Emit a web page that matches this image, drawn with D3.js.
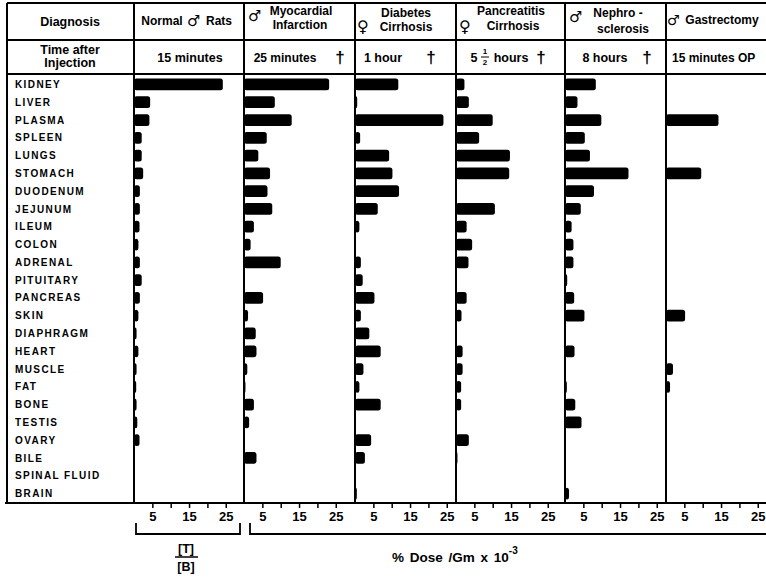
<!DOCTYPE html>
<html>
<head>
<meta charset="utf-8">
<script src="https://cdn.jsdelivr.net/npm/d3@7"></script>
<style>
  body { margin: 0; background: #fff; }
  svg text { font-family: "Liberation Sans", Arial, sans-serif; font-weight: bold; fill: #000; }
  svg text.sym { font-family: "DejaVu Sans", sans-serif; }
</style>
</head>
<body>
<div id="chart"></div>
<script>
// organs (rows)
const organs = ["KIDNEY", "LIVER", "PLASMA", "SPLEEN", "LUNGS", "STOMACH", "DUODENUM",
  "JEJUNUM", "ILEUM", "COLON", "ADRENAL", "PITUITARY", "PANCREAS", "SKIN", "DIAPHRAGM",
  "HEART", "MUSCLE", "FAT", "BONE", "TESTIS", "OVARY", "BILE", "SPINAL FLUID", "BRAIN"];

// values, one per organ
const normalRats = [24.2, 4.4, 4.2, 2.1, 2.1, 2.5, 1.6, 1.6, 1.5, 1.2, 1.6, 2.1,
  1.6, 1.2, 0.7, 1.2, 0.7, 0.6, 0.7, 0.9, 1.5, 0, 0, 0];
const myocardial = [23.2, 8.4, 13.0, 6.2, 3.9, 7.1, 6.4, 7.7, 2.7, 1.8, 10.0, 0,
  5.2, 1.1, 3.2, 3.4, 0.9, 0.4, 2.7, 1.4, 0, 3.4, 0, 0];
const diabetes = [11.8, 0.6, 24.1, 1.4, 9.3, 10.2, 12.0, 6.2, 1.2, 0, 1.6, 2.1,
  5.3, 1.6, 3.9, 7.0, 2.3, 1.2, 7.0, 0, 4.4, 2.7, 0, 0.5];
const pancreatitis = [2.3, 3.5, 10.0, 6.3, 14.7, 14.5, 0, 10.6, 2.9, 4.4, 3.4, 0,
  2.9, 1.5, 0, 1.8, 1.8, 1.4, 1.4, 0, 3.5, 0.4, 0, 0];
const nephro = [8.4, 3.4, 9.9, 5.4, 6.8, 17.3, 7.9, 4.3, 1.8, 2.3, 2.3, 0.6,
  2.5, 5.3, 0, 2.6, 0, 0.5, 2.8, 4.5, 0, 0, 0, 1.1];
const gastrectomy = [0, 0, 14.3, 0, 0, 9.6, 0, 0, 0, 0, 0, 0,
  0, 5.2, 0, 0, 1.9, 1.1, 0, 0, 0, 0, 0, 0];

const series = [normalRats, myocardial, diabetes, pancreatitis, nephro, gastrectomy];

const tickValues = [5, 10, 15, 20, 25];
const tickLabels = ["5", "15", "25"];

const W = 766, H = 583;
const topY = 3, row1Y = 40, row2Y = 74, bottomY = 503, leftX = 7;
const panelLeft = [134, 244, 355, 456, 565, 666];
const unit = 3.67;

const svg = d3.select("#chart").append("svg")
  .attr("width", W).attr("height", H);

const y = d3.scaleBand()
  .domain(organs)
  .range([row2Y + 1, bottomY])
  .paddingInner(0.34)
  .paddingOuter(0.2);

// organ labels
svg.selectAll(".organ")
  .data(organs)
  .join("text")
  .attr("class", "organ")
  .attr("x", 15)
  .attr("y", d => y(d) + y.bandwidth() / 2)
  .attr("dy", "0.36em")
  .style("font-size", "10px")
  .style("letter-spacing", "1.4px")
  .text(d => d);

// bars
series.forEach((vals, i) => {
  const x = d3.scaleLinear().domain([0, 30]).range([panelLeft[i], panelLeft[i] + 30 * unit]);
  svg.append("g")
    .selectAll("rect")
    .data(vals.map((v, j) => ({ organ: organs[j], v })).filter(d => d.v > 0))
    .join("rect")
    .attr("x", x(0))
    .attr("y", d => y(d.organ))
    .attr("width", d => x(d.v) - x(0))
    .attr("height", y.bandwidth())
    .attr("rx", 2.5)
    .attr("fill", "#000");

  const axis = svg.append("g")
    .attr("transform", `translate(0,${bottomY})`)
    .call(d3.axisBottom(x).tickValues(tickValues).tickSize(5)
      .tickFormat(d => tickLabels.includes(String(d)) ? d : ""));
  axis.select(".domain").remove();
  axis.selectAll("line").attr("stroke-width", 1.5);
  axis.selectAll("text").attr("y", 9)
    .style("font-size", "13px")
    .style("font-family", "'Liberation Sans', Arial, sans-serif")
    .style("font-weight", "bold");
});

// grid lines
const lines = svg.append("g").attr("stroke", "#000").attr("stroke-width", 2);
lines.append("line").attr("x1", leftX).attr("x2", W).attr("y1", topY).attr("y2", topY);
lines.append("line").attr("x1", leftX).attr("x2", W).attr("y1", row1Y).attr("y2", row1Y);
lines.append("line").attr("x1", leftX).attr("x2", W).attr("y1", row2Y).attr("y2", row2Y);
lines.append("line").attr("x1", leftX - 2).attr("x2", W).attr("y1", bottomY).attr("y2", bottomY);
lines.append("line").attr("x1", leftX).attr("x2", leftX).attr("y1", topY).attr("y2", bottomY);
panelLeft.forEach(px => {
  lines.append("line").attr("x1", px).attr("x2", px).attr("y1", topY).attr("y2", bottomY);
});

// header text
const head = svg.append("g");
const hText = (x, yy, t, size, anchor) => head.append("text")
  .attr("x", x).attr("y", yy)
  .attr("text-anchor", anchor || "middle")
  .style("font-size", (size || 12) + "px")
  .text(t);
const sym = (x, yy, t, size) => hText(x, yy, t, size, "start").attr("class", "sym");

hText(70, 26, "Diagnosis", 12.5);
hText(162, 25, "Normal", 12);
sym(187, 26, "\u2642", 15);
hText(219, 25, "Rats", 12);
sym(248, 21, "\u2642", 15);
hText(301, 15, "Myocardial", 12);
hText(300, 29, "Infarction", 12);
sym(357, 32, "\u2640", 16);
hText(406, 17, "Diabetes", 12);
hText(406, 31, "Cirrhosis", 12);
sym(459, 32, "\u2640", 16);
hText(511, 15, "Pancreatitis", 12);
hText(513, 30, "Cirrhosis", 12);
sym(569, 22, "\u2642", 15);
hText(618, 17, "Nephro -", 12);
hText(623, 33, "sclerosis", 12);
sym(667, 25, "\u2642", 14);
hText(722, 24, "Gastrectomy", 12);

hText(70, 54, "Time after", 12.5);
hText(70, 67, "Injection", 12.5);
hText(190, 62, "15 minutes", 12.5);
hText(285, 62, "25 minutes", 12);
hText(340, 63, "\u2020", 17);
hText(383, 62, "1 hour", 12.5);
hText(431, 63, "\u2020", 17);
// 5 1/2 hours with a stacked fraction
hText(474, 62, "5", 12.5);
hText(485, 54, "1", 8);
head.append("line").attr("x1", 481).attr("x2", 489).attr("y1", 57).attr("y2", 57)
  .attr("stroke", "#000").attr("stroke-width", 1);
hText(485, 65, "2", 8);
hText(511, 62, "hours", 12.5);
hText(541, 63, "\u2020", 17);
hText(605, 62, "8 hours", 12.5);
hText(647, 63, "\u2020", 17);
hText(672, 62, "15 minutes OP", 12, "start");

// brackets under the axis
const br = svg.append("g").attr("stroke", "#000").attr("stroke-width", 1.8).attr("fill", "none");
br.append("path").attr("d", "M136,523 V534 H240 V523");
br.append("path").attr("d", "M250,523 V534 H770");

// [T]/[B] label
hText(186, 553, "[T]", 12.5);
svg.append("line").attr("x1", 175).attr("x2", 198).attr("y1", 557).attr("y2", 557)
  .attr("stroke", "#000").attr("stroke-width", 1.5);
hText(186, 571, "[B]", 12.5);

// unit label
const unitLabel = svg.append("text")
  .attr("x", 392).attr("y", 562)
  .style("font-size", "13.5px")
  .style("word-spacing", "2px");
unitLabel.append("tspan").text("% Dose /Gm  x 10");
unitLabel.append("tspan").attr("dy", -8).style("font-size", "10px").text("-3");
</script>
</body>
</html>
